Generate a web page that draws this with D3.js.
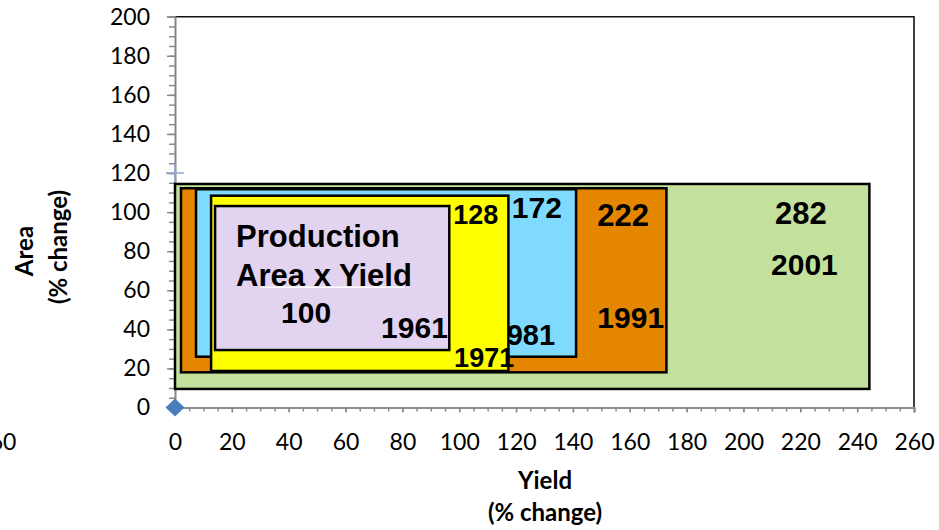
<!DOCTYPE html>
<html>
<head>
<meta charset="utf-8">
<script src="https://cdn.jsdelivr.net/npm/d3@7"></script>
<style>
  html, body { margin: 0; padding: 0; background: #fff; }
  svg { display: block; }
</style>
</head>
<body>
<svg id="chart" width="939" height="530"></svg>
<script>
// Decades shown as nested rectangles: width = yield change, height = area change
const years = ["1961", "1971", "1981", "1991", "2001"];
const production = [100, 128, 172, 222, 282];
const yieldFrom = [14.1, 12.7, 7.4, 2.1, 0];
const yieldTo = [96.5, 117.3, 141.1, 172.9, 244.3];
const areaFrom = [29.4, 18.7, 26.0, 18.0, 9.5];
const areaTo = [103.1, 108.4, 111.7, 112.2, 114.4];
const fills = ["#e2d3f0", "#ffff00", "#7fdafe", "#e58600", "#c3e19c"];

// Axis ticks
const xTicks = d3.range(0, 261, 20);
const xMinorTicks = d3.range(0, 261, 5);
const yTicks = d3.range(0, 201, 20);
const yMinorTicks = d3.range(0, 201, 5);

// Two single-point marker series
const diamondPoint = [{ x: 0, y: 0 }];
const plusPoint = [{ x: 0, y: 120 }];

// Label anchors (in yield / area units)
const yearLabelAt = [
  { x: 96.0, y: 35.4, anchor: "end", size: 30 },
  { x: 98.2, y: 20.9, anchor: "start", size: 27 },
  { x: 133.7, y: 32.0, anchor: "end", size: 29 },
  { x: 148.6, y: 40.8, anchor: "start", size: 30 },
  { x: 209.7, y: 67.8, anchor: "start", size: 30 }
];
const prodLabelAt = [
  { x: 37.3, y: 43.1, size: 30 },
  { x: 97.9, y: 93.8, size: 27 },
  { x: 118.5, y: 97.1, size: 30 },
  { x: 148.6, y: 92.9, size: 31 },
  { x: 211.1, y: 93.9, size: 31 }
];

const svg = d3.select("#chart");
const x = d3.scaleLinear().domain([0, 260]).range([175, 914]);
const y = d3.scaleLinear().domain([0, 200]).range([407.5, 16.7]);

const tickFont = "Lato, 'Liberation Sans', Arial, sans-serif";
const boldFont = "'Liberation Sans', Arial, sans-serif";
const axisGray = "#868686";

// Plot frame (top and right)
svg.append("path")
  .attr("d", `M${x(0)},${y(200)} H${x(260)} V${y(0)}`)
  .attr("fill", "none").attr("stroke", "#111").attr("stroke-width", 1.6);

// Y axis: minor then major ticks
const gy = svg.append("g").attr("transform", `translate(${x(0)},0)`);
gy.call(d3.axisLeft(y).tickValues(yMinorTicks).tickSize(6).tickFormat(""));
gy.append("g").call(d3.axisLeft(y).tickValues(yTicks).tickSize(8).tickPadding(17));
gy.selectAll("path.domain").attr("stroke", axisGray).attr("stroke-width", 1.6);
gy.selectAll(".tick line").attr("stroke", axisGray).attr("stroke-width", 1.4);
gy.selectAll(".tick text")
  .attr("font-family", tickFont).attr("font-size", 23).attr("fill", "#000");

// X axis
const gx = svg.append("g").attr("transform", `translate(0,${y(0)})`);
gx.call(d3.axisBottom(x).tickValues(xMinorTicks).tickSize(4).tickFormat(""));
gx.append("g").call(d3.axisBottom(x).tickValues(xTicks).tickSize(5));
gx.selectAll("path.domain").attr("stroke", axisGray).attr("stroke-width", 1.6);
gx.selectAll(".tick line").attr("stroke", axisGray).attr("stroke-width", 1.4);
gx.selectAll(".tick text")
  .attr("font-family", tickFont).attr("font-size", 23).attr("fill", "#000")
  .attr("y", 42.5).attr("dy", null);

// Stray category label at the far left of the x axis
svg.append("text")
  .attr("x", x(-60) + 12).attr("y", y(0) + 42.5)
  .attr("text-anchor", "end")
  .attr("font-family", tickFont).attr("font-size", 23).attr("fill", "#000")
  .text("-60");

// Plus marker
svg.selectAll("path.plus").data(plusPoint).join("path")
  .attr("class", "plus")
  .attr("transform", d => `translate(${x(d.x)},${y(d.y)})`)
  .attr("d", "M-9,0H9M0,-9V9")
  .attr("stroke", "#8fa8d2").attr("stroke-width", 1.6).attr("fill", "none");

// Rectangles, largest first, each followed by its own labels
const order = d3.range(years.length).reverse();
order.forEach(i => {
  const g = svg.append("g");
  g.append("rect")
    .attr("x", x(yieldFrom[i]))
    .attr("y", y(areaTo[i]))
    .attr("width", x(yieldTo[i]) - x(yieldFrom[i]))
    .attr("height", y(areaFrom[i]) - y(areaTo[i]))
    .attr("fill", fills[i])
    .attr("stroke", "#000").attr("stroke-width", 2.5);

  if (i === 0) {
    g.append("text")
      .attr("x", x(21.5)).attr("y", y(82.3))
      .attr("font-family", boldFont).attr("font-weight", "bold")
      .attr("font-size", 31).attr("fill", "#000")
      .text("Production");
    g.append("text")
      .attr("x", x(21.5)).attr("y", y(62.3))
      .attr("font-family", boldFont).attr("font-weight", "bold")
      .attr("font-size", 31).attr("fill", "#000")
      .text("Area x Yield");
    g.append("line")
      .attr("x1", 260).attr("x2", 405)
      .attr("y1", y(62.3) + 1.5).attr("y2", y(62.3) + 1.5)
      .attr("stroke", "#fff").attr("stroke-width", 1.5);
  }

  const p = prodLabelAt[i];
  g.append("text")
    .attr("x", x(p.x)).attr("y", y(p.y))
    .attr("font-family", boldFont).attr("font-weight", "bold")
    .attr("font-size", p.size).attr("fill", "#000")
    .text(production[i]);

  const t = yearLabelAt[i];
  g.append("text")
    .attr("x", x(t.x)).attr("y", y(t.y))
    .attr("text-anchor", t.anchor)
    .attr("font-family", boldFont).attr("font-weight", "bold")
    .attr("font-size", t.size).attr("fill", "#000")
    .text(years[i]);
});

// Diamond marker at the origin
svg.selectAll("path.diamond").data(diamondPoint).join("path")
  .attr("class", "diamond")
  .attr("transform", d => `translate(${x(d.x)},${y(d.y)})`)
  .attr("d", "M0,-9L9.5,0L0,9L-9.5,0Z")
  .attr("fill", "#4a7ebb");

// Axis titles
const titleFont = "Lato, 'Open Sans', sans-serif";
const titleSize = 24;
svg.append("text")
  .attr("x", 545).attr("y", 489)
  .attr("text-anchor", "middle")
  .attr("font-family", titleFont).attr("font-weight", "bold").attr("font-size", titleSize)
  .text("Yield");
svg.append("text")
  .attr("x", 545).attr("y", 521)
  .attr("text-anchor", "middle")
  .attr("font-family", titleFont).attr("font-weight", "bold").attr("font-size", titleSize)
  .text("(% change)");

svg.append("text")
  .attr("transform", "translate(33,251) rotate(-90)")
  .attr("text-anchor", "middle")
  .attr("font-family", titleFont).attr("font-weight", "bold").attr("font-size", titleSize)
  .text("Area");
svg.append("text")
  .attr("transform", "translate(67,247) rotate(-90)")
  .attr("text-anchor", "middle")
  .attr("font-family", titleFont).attr("font-weight", "bold").attr("font-size", titleSize)
  .text("(% change)");
</script>
</body>
</html>
